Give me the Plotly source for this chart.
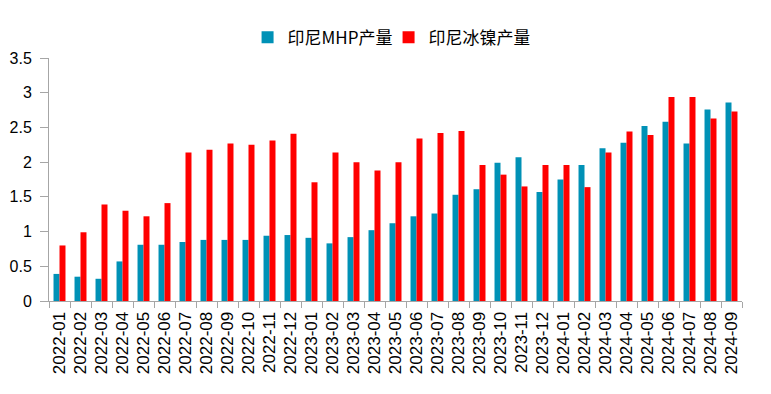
import plotly.graph_objects as go

months = ["2022-01","2022-02","2022-03","2022-04","2022-05","2022-06","2022-07","2022-08","2022-09","2022-10","2022-11","2022-12",
          "2023-01","2023-02","2023-03","2023-04","2023-05","2023-06","2023-07","2023-08","2023-09","2023-10","2023-11","2023-12",
          "2024-01","2024-02","2024-03","2024-04","2024-05","2024-06","2024-07","2024-08","2024-09"]
mhp = [0.39,0.35,0.32,0.57,0.81,0.81,0.85,0.88,0.88,0.88,0.94,0.95,
       0.91,0.83,0.92,1.02,1.12,1.22,1.26,1.53,1.61,1.99,2.07,1.57,
       1.75,1.96,2.20,2.28,2.52,2.58,2.27,2.76,2.86]
matte = [0.80,0.99,1.39,1.30,1.22,1.41,2.14,2.18,2.27,2.25,2.31,2.41,
         1.71,2.14,2.00,1.88,2.00,2.34,2.42,2.45,1.96,1.82,1.65,1.96,
         1.96,1.64,2.14,2.44,2.39,2.94,2.94,2.63,2.73]
y_ticks = [0, 0.5, 1, 1.5, 2, 2.5, 3, 3.5]
y_labels = ["0", "0.5", "1", "1.5", "2", "2.5", "3", "3.5"]

fig = go.Figure()
fig.add_bar(x=months, y=mhp, name="印尼MHP产量", marker_color="#0091B6", marker_line_width=0)
fig.add_bar(x=months, y=matte, name="印尼冰镍产量", marker_color="#FF0000", marker_line_width=0)

fig.update_layout(
    width=771, height=394,
    margin=dict(l=41, r=37, t=43, b=101),
    paper_bgcolor="white", plot_bgcolor="white",
    barmode="group", bargap=0.43, bargroupgap=0,
    font=dict(family="Liberation Sans, Arial, Noto Sans CJK SC", size=16, color="#000000"),
    legend=dict(orientation="h", x=0.49, xanchor="center", y=1.084, yanchor="middle",
                font=dict(family="Noto Sans CJK SC", size=17), itemwidth=30,
                entrywidth=96, entrywidthmode="pixels",
                traceorder="normal", tracegroupgap=0),
    showlegend=True,
)
fig.update_xaxes(type="category", tickangle=-90, showline=True, linecolor="#A6A6A6", linewidth=1,
                 ticks="outside", tickson="boundaries", ticklen=6, tickcolor="#A6A6A6",
                 ticklabelstandoff=3,
                 showgrid=False, tickfont=dict(size=17), automargin=False)
fig.update_yaxes(range=[0, 3.5], tickvals=y_ticks, ticktext=y_labels, showline=True,
                 linecolor="#A6A6A6", linewidth=1, showgrid=False, zeroline=False,
                 ticks="outside", ticklen=8, tickcolor="#A6A6A6", ticklabelstandoff=5,
                 tickfont=dict(size=16), automargin=False)

fig.write_html("out.html")
